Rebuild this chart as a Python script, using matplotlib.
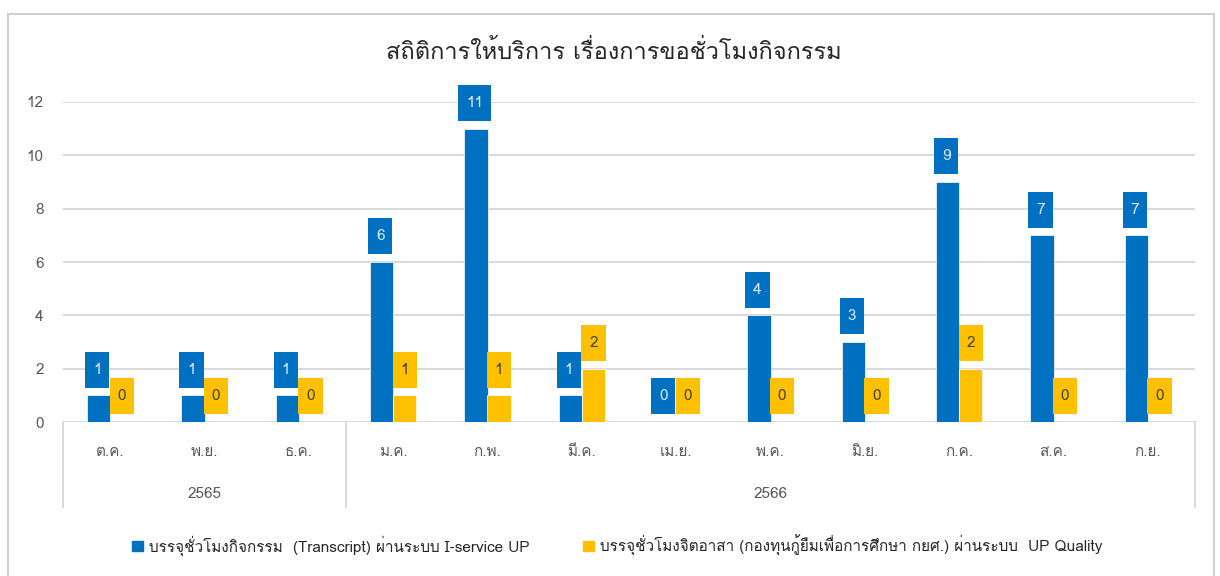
import matplotlib
matplotlib.use('Agg')
import matplotlib.pyplot as plt
from matplotlib import font_manager
from matplotlib.ft2font import FT2Font
from matplotlib.lines import Line2D
from matplotlib.path import Path
import numpy as np

months = ['ต.ค.', 'พ.ย.', 'ธ.ค.', 'ม.ค.', 'ก.พ.', 'มี.ค.', 'เม.ย.', 'พ.ค.', 'มิ.ย.', 'ก.ค.', 'ส.ค.', 'ก.ย.']
years = ['2565', '2566']
year_counts = [3, 9]
transcript = [1, 1, 1, 6, 11, 1, 0, 4, 3, 9, 7, 7]
volunteer = [0, 0, 0, 1, 1, 2, 0, 0, 0, 2, 0, 0]
labels = ['บรรจุชั่วโมงกิจกรรม  (Transcript) ผ่านระบบ I-service UP',
          'บรรจุชั่วโมงจิตอาสา (กองทุนกู้ยืมเพื่อการศึกษา กยศ.) ผ่านระบบ  UP Quality']
title = 'สถิติการให้บริการ เรื่องการขอชั่วโมงกิจกรรม'

# find fonts that can draw Thai
thai_fonts = []
for f in font_manager.fontManager.ttflist:
    try:
        if 0x0E2A in FT2Font(f.fname).get_charmap() and f.name not in thai_fonts:
            thai_fonts.append(f.name)
    except Exception:
        pass
plt.rcParams['font.family'] = thai_fonts + ['DejaVu Sans']

blue = '#0070C0'
yellow = '#FFC000'
grey = '#D9D9D9'
txt = '#595959'


def tall_box(x0, y0, width, height, mutation_size):
    # label box, taller than it is wide like the excel callouts
    px = 0.52 * mutation_size
    py = 0.72 * mutation_size
    x0, y0 = x0 - px, y0 - py
    x1, y1 = x0 + width + 2 * px, y0 + height + 2 * py
    return Path([(x0, y0), (x1, y0), (x1, y1), (x0, y1), (x0, y0)], closed=True)


fig = plt.figure(figsize=(12.2, 5.76), dpi=100)
ax = fig.add_axes([63 / 1220, 154 / 576, 1132 / 1220, 320 / 576])

x = np.arange(len(months))
w = 0.245
ax.bar(x - w / 2, transcript, w, color=blue, edgecolor='white', linewidth=0.5, zorder=3)
ax.bar(x + w / 2, volunteer, w, color=yellow, edgecolor='white', linewidth=0.5, zorder=3)

for xi, v in zip(x, transcript):
    ax.annotate(str(v), (xi - w / 2, v), xytext=(-1, 18.5), textcoords='offset points',
                ha='center', va='center', fontsize=11, color='#DDEBF7', zorder=5,
                bbox=dict(boxstyle=tall_box, fc=blue, ec='none'), annotation_clip=False)
for xi, v in zip(x, volunteer):
    ax.annotate(str(v), (xi + w / 2, v), xytext=(0, 18.5), textcoords='offset points',
                ha='center', va='center', fontsize=11, color='#404040', zorder=5,
                bbox=dict(boxstyle=tall_box, fc=yellow, ec='none'), annotation_clip=False)

ax.set_xlim(-0.5, len(months) - 0.5)
ax.set_ylim(0, 12)
ax.set_yticks(range(0, 13, 2))
ax.tick_params(axis='y', length=0, pad=14, labelsize=11, labelcolor=txt)
ax.set_xticks([])
ax.grid(axis='y', color=grey, linewidth=1.4, zorder=0)
for s in ax.spines.values():
    s.set_visible(False)
ax.axhline(0, color=grey, linewidth=1.4, zorder=1)

# multi-level category axis
trans = ax.get_xaxis_transform()
ax_h = 320
for xi, m in zip(x, months):
    ax.text(xi, -30 / ax_h, m, transform=trans, ha='center', va='center', fontsize=11, color=txt)
start = -0.5
ax.plot([start, start], [0, -85 / ax_h], transform=trans, color=grey, lw=1.4, clip_on=False)
for yr, n in zip(years, year_counts):
    end = start + n
    ax.text((start + end) / 2, -72 / ax_h, yr, transform=trans, ha='center', va='center',
            fontsize=11, color=txt)
    ax.plot([end, end], [0, -85 / ax_h], transform=trans, color=grey, lw=1.4, clip_on=False)
    start = end

fig.text(0.503, 1 - 52 / 576, title, ha='center', va='center', fontsize=17, color='#262626')

handles = [plt.Rectangle((0, 0), 1, 1, color=blue), plt.Rectangle((0, 0), 1, 1, color=yellow)]
fig.legend(handles, labels, loc='center', bbox_to_anchor=(0.506, 1 - 545 / 576), ncol=2,
           frameon=False, fontsize=11, handlelength=0.7, handleheight=0.7, handletextpad=0.4,
           columnspacing=3.5, labelcolor='#262626')

# frame of the chart area
fig.add_artist(Line2D([8 / 1220, 8 / 1220], [0, 1 - 14 / 576], color='#D0D0D0', lw=1.5))
fig.add_artist(Line2D([8 / 1220, 1214 / 1220], [1 - 14 / 576, 1 - 14 / 576], color='#D0D0D0', lw=1.5))
fig.add_artist(Line2D([1214 / 1220, 1214 / 1220], [0, 1 - 14 / 576], color='#D0D0D0', lw=1.5))

fig.savefig('out.png', dpi=100)
